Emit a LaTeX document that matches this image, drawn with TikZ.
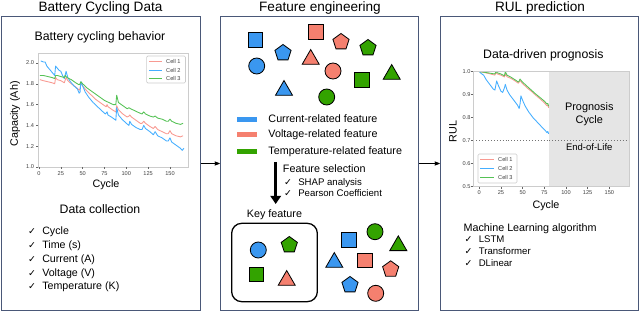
\documentclass[tikz,border=0pt]{standalone}
\usepackage{fontspec}
\setmainfont{Liberation Sans}
\newfontfamily\simbolo{DejaVu Sans}
\usepackage{tikz}
\usetikzlibrary{positioning, shapes.geometric, arrows.meta}
\usepackage{xcolor}
\definecolor{moldura}{HTML}{4A5878}
\definecolor{azul}{HTML}{3A97F0}
\definecolor{vermelho}{HTML}{F5806F}
\definecolor{verde}{HTML}{33A300}
\definecolor{linha1}{HTML}{F89A92}
\definecolor{linha2}{HTML}{45AEFF}
\definecolor{linha3}{HTML}{55C255}
\newcommand{\ok}{\makebox[12pt][l]{\simbolo\fontsize{8}{8}\selectfont ✓}}

\begin{document}
\begin{tikzpicture}[
    x=0.03cm, y=-0.03cm,
    >={Stealth[round]},
    painel/.style={draw=moldura, line width=0.8pt, minimum width=5.96cm,
                   minimum height=8.82cm, inner sep=0pt},
    titulo/.style={font=\fontsize{11.6}{13}\selectfont, inner sep=0pt},
    subtitulo/.style={font=\fontsize{10.5}{12}\selectfont, inner sep=0pt},
    item/.style={font=\fontsize{9.1}{11}\selectfont, inner sep=0pt,
                 text height=7pt, text depth=2pt},
    itemb/.style={font=\fontsize{8.2}{10}\selectfont, inner sep=0pt,
                  text height=6.4pt, text depth=1.8pt},
    legenda/.style={font=\fontsize{9.2}{11}\selectfont, inner sep=0pt,
                    text height=6.8pt, text depth=1.9pt},
    eixo/.style={font=\fontsize{9.2}{11}\selectfont, inner sep=0pt},
    tic/.style={font=\fontsize{4.8}{5}\selectfont, inner sep=0pt, text=black!75},
    quadro/.style={draw=black!20, line width=0.5pt},
    tique/.style={black!60, line width=0.4pt},
    forma/.style={draw=black, line width=0.7pt, inner sep=0pt},
    quad/.style={forma, rectangle, minimum size=0.43cm},
    circ/.style={forma, circle, minimum size=0.48cm},
    pent/.style={forma, regular polygon, regular polygon sides=5, minimum size=0.51cm},
    tri/.style={forma, regular polygon, regular polygon sides=3, minimum size=0.59cm},
    barra/.style={minimum width=0.6cm, minimum height=0.15cm, inner sep=0pt},
    seta/.style={->, line width=0.6pt},
    setagrossa/.style={-{Triangle[length=7pt,width=9pt]}, line width=2.1pt},
    caixa/.style={draw=black, line width=1.1pt, rounded corners=0.3cm,
                  minimum width=2.57cm, minimum height=2.35cm, inner sep=0pt},
    c1/.style={linha1, line width=0.75pt, line join=round},
    c2/.style={linha2, line width=0.75pt, line join=round},
    c3/.style={linha3, line width=0.75pt, line join=round}
  ]
    \useasboundingbox (0,0) rectangle (640,313);

    % --- Paineis e titulos ---
    \node[painel] (p1) at (101,163.5) {};
    \node[painel] (p2) at (319.5,163.5) {};
    \node[painel] (p3) at (539.5,163.5) {};
    \node[titulo] (t1) at (100.5,8) {Battery Cycling Data};
    \node[titulo] (t2) at (320,8) {Feature engineering};
    \node[titulo] (t3) at (540,8) {RUL prediction};

    \draw[seta] (p1) -- (p2);
    \draw[seta] (p2) -- (p3);

    % --- Painel 1: curvas de capacidade ---
    \node[subtitulo] (s1) at (100,37.5) {Battery cycling behavior};
    \draw[quadro] (38,53) rectangle (188,167);
    \begin{scope}[shift={(39,271)}, xscale=0.873, yscale=-104]
      \draw[tique] (-1.15,1) -- (-3.4,1) (-1.15,1.2) -- (-3.4,1.2) (-1.15,1.4) -- (-3.4,1.4)
        (-1.15,1.6) -- (-3.4,1.6) (-1.15,1.8) -- (-3.4,1.8) (-1.15,2) -- (-3.4,2);
      \draw[tique] (0,1) -- (0,0.981) (25,1) -- (25,0.981) (50,1) -- (50,0.981) (75,1) -- (75,0.981)
        (100,1) -- (100,0.981) (125,1) -- (125,0.981) (150,1) -- (150,0.981);
      \node[tic, anchor=east] (ya1) at (-5.5,1.0) {1.0};
      \node[tic, anchor=east] (ya2) at (-5.5,1.2) {1.2};
      \node[tic, anchor=east] (ya3) at (-5.5,1.4) {1.4};
      \node[tic, anchor=east] (ya4) at (-5.5,1.6) {1.6};
      \node[tic, anchor=east] (ya5) at (-5.5,1.8) {1.8};
      \node[tic, anchor=east] (ya6) at (-5.5,2.0) {2.0};
      \node[tic] (xa1) at (0,0.939) {0};
      \node[tic] (xa2) at (25,0.939) {25};
      \node[tic] (xa3) at (50,0.939) {50};
      \node[tic] (xa4) at (75,0.939) {75};
      \node[tic] (xa5) at (100,0.939) {100};
      \node[tic] (xa6) at (125,0.939) {125};
      \node[tic] (xa7) at (150,0.939) {150};

      \draw[c1] plot coordinates {(1,1.84) (5,1.83) (10,1.82) (15,1.81) (18,1.80) (19,1.86) (21,1.84)
        (25,1.83) (29,1.81) (31,1.86) (33,1.83) (37,1.80) (42,1.77) (46,1.74) (47,1.75) (48,1.81)
        (50,1.78) (55,1.73) (60,1.69) (65,1.65) (70,1.62) (75,1.59) (77,1.58) (78,1.60) (79,1.58)
        (84,1.55) (88,1.53) (89,1.59) (91,1.55) (96,1.51) (101,1.48) (103,1.49) (104,1.50)
        (106,1.48) (111,1.45) (116,1.42) (118,1.42) (120,1.44) (122,1.42) (127,1.39) (131,1.37)
        (133,1.39) (136,1.36) (141,1.34) (146,1.32) (148,1.32) (150,1.35) (152,1.32) (157,1.30)
        (162,1.29) (165,1.30)};
      \draw[c2] plot coordinates {(2,2.02) (5,2.01) (7,2.01) (9,1.97) (13,1.93) (18,1.88) (19,1.97)
        (21,1.95) (23,1.93) (25,1.92) (27,1.88) (29,1.85) (31,1.92) (33,1.86) (36,1.82) (40,1.78)
        (44,1.75) (46,1.71) (47,1.72) (48,1.82) (50,1.78) (53,1.72) (57,1.67) (62,1.62) (67,1.58)
        (72,1.54) (76,1.51) (78,1.53) (79,1.50) (83,1.48) (88,1.45) (89,1.57) (91,1.50) (95,1.46)
        (100,1.42) (103,1.40) (104,1.44) (106,1.41) (111,1.38) (116,1.36) (118,1.36) (120,1.40)
        (122,1.37) (127,1.34) (131,1.31) (133,1.34) (136,1.30) (141,1.28) (146,1.25) (148,1.25)
        (150,1.28) (152,1.24) (157,1.21) (162,1.18) (164,1.16) (165,1.17) (166,1.18)};
      \draw[c3] plot coordinates {(1,1.88) (5,1.88) (10,1.87) (15,1.86) (18,1.85) (19,1.88) (21,1.88)
        (25,1.87) (29,1.86) (30,1.88) (32,1.86) (37,1.84) (42,1.81) (46,1.79) (47,1.80) (48,1.82)
        (50,1.80) (55,1.76) (60,1.73) (65,1.70) (70,1.67) (75,1.64) (80,1.62) (85,1.60) (88,1.60)
        (89,1.69) (91,1.62) (96,1.59) (101,1.56) (103,1.57) (105,1.56) (110,1.54) (115,1.52)
        (118,1.51) (120,1.53) (122,1.51) (127,1.49) (131,1.48) (133,1.49) (136,1.47) (141,1.46)
        (146,1.44) (148,1.44) (150,1.46) (152,1.44) (157,1.42) (162,1.41) (165,1.42)};
    \end{scope}
    % legenda do grafico 1
    \draw[quadro, fill=white, rounded corners=1pt] (146.7,56) rectangle (185.5,83);
    \draw[c1] (149,61.7) -- (161.7,61.7);
    \draw[c2] (149,70) -- (161.7,70);
    \draw[c3] (149,78.3) -- (161.7,78.3);
    \node[tic, anchor=west] (la1) at (166,61.7) {Cell 1};
    \node[tic, anchor=west] (la2) at (166,70) {Cell 2};
    \node[tic, anchor=west] (la3) at (166,78.3) {Cell 3};
    \node[eixo, rotate=90] (ey1) at (15,114) {Capacity (Ah)};
    \node[eixo] (ex1) at (106,185) {Cycle};

    % --- Painel 1: coleta de dados ---
    \node[subtitulo] (s2) at (100,209.5) {Data collection};
    \node[item, anchor=west] (dc1) at (28,232) {\ok Cycle};
    \node[item, below=2.35pt of dc1.south west, anchor=north west] (dc2) {\ok Time (s)};
    \node[item, below=2.35pt of dc2.south west, anchor=north west] (dc3) {\ok Current (A)};
    \node[item, below=2.35pt of dc3.south west, anchor=north west] (dc4) {\ok Voltage (V)};
    \node[item, below=2.35pt of dc4.south west, anchor=north west] (dc5) {\ok Temperature (K)};

    % --- Painel 2: features ---
    \node[quad, fill=azul] (qa1) at (255.7,40) {};
    \node[circ, fill=azul] (ca1) at (256.7,66) {};
    \node[pent, fill=azul] (pa1) at (283,53) {};
    \node[tri, fill=azul] (ta1) at (284,90.4) {};
    \node[quad, fill=vermelho] (qv1) at (316,32) {};
    \node[tri, fill=vermelho] (tv1) at (310.7,59.4) {};
    \node[pent, fill=vermelho] (pv1) at (341,42) {};
    \node[circ, fill=vermelho] (cv1) at (333,71) {};
    \node[circ, fill=verde] (cg1) at (326.7,97) {};
    \node[pent, fill=verde] (pg1) at (368,48) {};
    \node[quad, fill=verde] (qg1) at (362,80) {};
    \node[tri, fill=verde] (tg1) at (391.7,74.4) {};

    \node[barra, fill=azul] (b1) at (247,119.3) {};
    \node[barra, fill=vermelho] (b2) at (247,135) {};
    \node[barra, fill=verde] (b3) at (247,151.7) {};
    \node[legenda, right=0.33cm of b1] (lb1) {Current-related feature};
    \node[legenda, right=0.33cm of b2] (lb2) {Voltage-related feature};
    \node[legenda, right=0.33cm of b3] (lb3) {Temperature-related feature};

    % --- Selecao de features ---
    \coordinate (sel1) at (275.7,162);
    \coordinate (sel2) at (275.7,204);
    \draw[setagrossa] (sel1) -- (sel2);
    \node[legenda, anchor=west] (fs) at (282.7,170) {Feature selection};
    \node[itemb, anchor=west] (fs1) at (284,183) {\ok SHAP analysis};
    \node[itemb, below=0.85pt of fs1.south west, anchor=north west] (fs2) {\ok Pearson Coefficient};

    \node[caixa] (k) at (274.5,262.5) {};
    \node[legenda, above=2.1pt of k] (kl) {Key feature};
    \node[circ, fill=azul] (ca2) at (258.3,250) {};
    \node[pent, fill=verde] (pg2) at (289.3,245) {};
    \node[quad, fill=verde] (qg2) at (256.7,274.3) {};
    \node[tri, fill=vermelho] (tv2) at (286.7,280.4) {};

    \node[quad, fill=azul] (qa3) at (349,240) {};
    \node[circ, fill=verde] (cg3) at (375,231.7) {};
    \node[tri, fill=verde] (tg3) at (398.3,245.7) {};
    \node[tri, fill=azul] (ta3) at (334.3,262.4) {};
    \node[quad, fill=vermelho] (qv3) at (365,260.7) {};
    \node[pent, fill=vermelho] (pv3) at (390.7,269.3) {};
    \node[pent, fill=azul] (pa3) at (350,285) {};
    \node[circ, fill=vermelho] (cv3) at (375.7,293.3) {};

    % --- Painel 3: prognostico ---
    \node[subtitulo] (s3) at (543.3,54.9) {Data-driven prognosis};
    \begin{scope}[shift={(479.3,301.7)}, xscale=0.867, yscale=-230]
      \fill[black!10] (80,0.5) rectangle (172.7,1.0);
      \draw[black!55, dotted, line width=0.5pt] (-6.9,0.7) -- (172.7,0.7);
      \draw[tique] (-6.9,0.5) -- (-9.2,0.5) (-6.9,0.6) -- (-9.2,0.6) (-6.9,0.7) -- (-9.2,0.7)
        (-6.9,0.8) -- (-9.2,0.8) (-6.9,0.9) -- (-9.2,0.9) (-6.9,1) -- (-9.2,1);
      \draw[tique] (0,0.5) -- (0,0.491) (25,0.5) -- (25,0.491) (50,0.5) -- (50,0.491) (75,0.5) -- (75,0.491)
        (100,0.5) -- (100,0.491) (125,0.5) -- (125,0.491) (150,0.5) -- (150,0.491);
      \node[tic, anchor=east] (yb1) at (-10,0.5) {0.5};
      \node[tic, anchor=east] (yb2) at (-10,0.6) {0.6};
      \node[tic, anchor=east] (yb3) at (-10,0.7) {0.7};
      \node[tic, anchor=east] (yb4) at (-10,0.8) {0.8};
      \node[tic, anchor=east] (yb5) at (-10,0.9) {0.9};
      \node[tic, anchor=east] (yb6) at (-10,1.0) {1.0};
      \node[tic] (xb1) at (0,0.474) {0};
      \node[tic] (xb2) at (25,0.474) {25};
      \node[tic] (xb3) at (50,0.474) {50};
      \node[tic] (xb4) at (75,0.474) {75};
      \node[tic] (xb5) at (100,0.474) {100};
      \node[tic] (xb6) at (125,0.474) {125};
      \node[tic] (xb7) at (150,0.474) {150};

      \draw[c1] plot coordinates {(0,1.0) (5,0.997) (10,0.993) (15,0.988) (18,0.985) (19,0.995)
        (21,0.99) (25,0.985) (29,0.977) (30,0.99) (32,0.978) (37,0.97) (42,0.958) (45,0.95)
        (46,0.955) (47,0.962) (49,0.952) (55,0.93) (60,0.915) (65,0.898) (70,0.882) (75,0.865)
        (78,0.852) (79,0.855) (80,0.843)};
      \draw[c2] plot coordinates {(0,1.0) (3,0.99) (5,0.985) (8,0.965) (12,0.945) (16,0.925)
        (18,0.92) (20,0.96) (22,0.94) (25,0.915) (27,0.91) (29,0.93) (30,0.945) (32,0.92)
        (35,0.9) (40,0.875) (44,0.855) (46,0.84) (47,0.86) (48,0.895) (50,0.875) (53,0.85)
        (57,0.825) (62,0.8) (67,0.78) (72,0.76) (76,0.745) (78,0.735) (79,0.74) (80,0.73)};
      \draw[c3] plot coordinates {(0,1.0) (5,0.998) (10,0.995) (15,0.992) (18,0.99) (19,1.0)
        (21,0.995) (25,0.99) (29,0.982) (30,1.0) (32,0.985) (37,0.975) (42,0.963) (45,0.955)
        (46,0.96) (47,0.968) (49,0.958) (55,0.937) (60,0.92) (65,0.903) (70,0.888) (75,0.872)
        (78,0.86) (79,0.862) (80,0.85)};
    \end{scope}
    \draw[quadro] (473.3,71.7) rectangle (629,186.7);
    \node[eixo, align=center, font=\fontsize{9.3}{10.8}\selectfont] (pc) at (589.3,114.3) {Prognosis\\Cycle};
    \node[eixo, font=\fontsize{8.1}{10}\selectfont] (eol) at (589.3,147) {End-of-Life};
    % legenda do grafico 2
    \draw[quadro, fill=white, rounded corners=1pt] (478,154) rectangle (517,183);
    \draw[c1] (480,159) -- (494,159);
    \draw[c2] (480,168.3) -- (494,168.3);
    \draw[c3] (480,177.3) -- (494,177.3);
    \node[tic, anchor=west] (lc1) at (498,159) {Cell 1};
    \node[tic, anchor=west] (lc2) at (498,168.3) {Cell 2};
    \node[tic, anchor=west] (lc3) at (498,177.3) {Cell 3};
    \node[eixo, rotate=90] (ey2) at (453,131.7) {RUL};
    \node[eixo] (ex2) at (546,205.7) {Cycle};

    % --- Algoritmos ---
    \node[legenda, anchor=west] (ml) at (463.3,228.7) {Machine Learning algorithm};
    \node[itemb, anchor=west] (ml1) at (464.5,240) {\ok LSTM};
    \node[itemb, below=1.7pt of ml1.south west, anchor=north west] (ml2) {\ok Transformer};
    \node[itemb, below=1.7pt of ml2.south west, anchor=north west] (ml3) {\ok DLinear};

  \end{tikzpicture}
\end{document}
